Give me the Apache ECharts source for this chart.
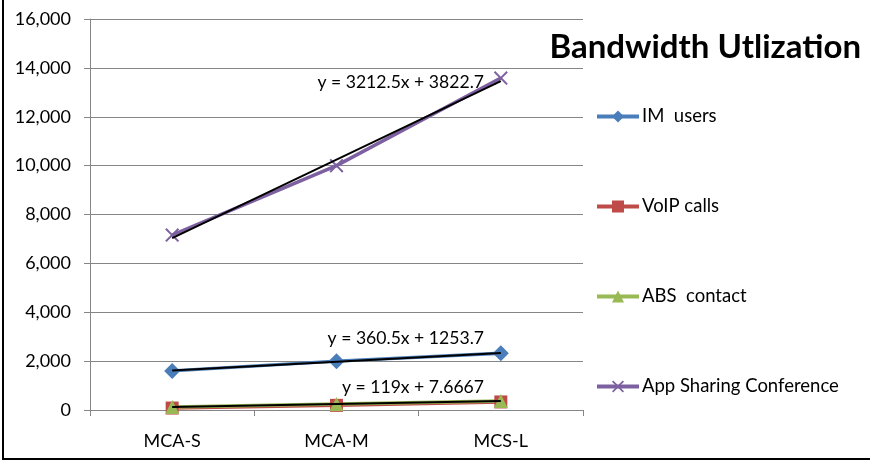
<!DOCTYPE html>
<html>
<head>
<meta charset="utf-8">
<script src="https://cdn.jsdelivr.net/npm/echarts@6/dist/echarts.min.js"></script>
<style>
  html, body { margin: 0; padding: 0; background: #fff; }
  #chart { width: 870px; height: 464px; }
</style>
</head>
<body>
<div id="chart"></div>
<script>
// categories and series values
const categories = ['MCA-S', 'MCA-M', 'MCS-L']
const imUsers = [1601, 2000, 2322]
const voipCalls = [80, 190, 330]
const absContact = [126, 247, 364]
const appSharing = [7159, 10000, 13584]
const yTicks = [0, 2000, 4000, 6000, 8000, 10000, 12000, 14000, 16000]
const trendTexts = ['y = 3212.5x + 3822.7', 'y = 360.5x + 1253.7', 'y = 119x + 7.6667']

// linear least-squares trend over category index 1..n
const trend = (vals) => {
  const n = vals.length
  const xs = vals.map((v, i) => i + 1)
  const mx = xs.reduce((a, b) => a + b, 0) / n
  const my = vals.reduce((a, b) => a + b, 0) / n
  let num = 0, den = 0
  xs.forEach((x, i) => { num += (x - mx) * (vals[i] - my); den += (x - mx) * (x - mx) })
  const k = num / den
  return xs.map(x => my + k * (x - mx))
}

const FONT = 'Lato'
const crossPath = 'path://M0,1L1,0L5,4L9,0L10,1L6,5L10,9L9,10L5,6L1,10L0,9L4,5Z'

const lineSeries = (name, data, color, symbol, size) => ({
  name,
  type: 'line',
  data,
  symbol,
  symbolSize: size,
  lineStyle: { color, width: 3.5 },
  itemStyle: { color },
  z: 2
})

const trendSeries = (data) => ({
  name: 'trend',
  type: 'line',
  data,
  symbol: 'none',
  lineStyle: { color: '#000', width: 2 },
  silent: true,
  z: 3
})

// trendline equation label, right-aligned
const eqLabel = (text, y) => ({
  type: 'text',
  x: 484,
  y,
  z: 10,
  style: { text, font: '17.6px Lato', fill: '#000', align: 'right', verticalAlign: 'middle' }
})

const chart = echarts.init(document.getElementById('chart'))
chart.setOption({
  animation: false,
  textStyle: { fontFamily: FONT },
  grid: { left: 90, right: 287, top: 19, bottom: 54 },
  title: {
    text: 'Bandwidth Utlization',
    right: 4,
    top: 26,
    textStyle: { fontFamily: FONT, fontSize: 33, fontWeight: 'bold', color: '#000' }
  },
  legend: {
    orient: 'vertical',
    left: 590,
    top: 102,
    itemWidth: 42,
    itemHeight: 15,
    itemGap: 71,
    lineStyle: { width: 4 },
    data: ['IM  users', 'VoIP calls', 'ABS  contact', 'App Sharing Conference'],
    textStyle: { fontFamily: FONT, fontSize: 18.5, color: '#000', padding: [0, 0, 0, -2] }
  },
  xAxis: {
    type: 'category',
    data: categories,
    boundaryGap: true,
    axisLine: { lineStyle: { color: '#868686', width: 1 } },
    axisTick: { show: true, length: 6, lineStyle: { color: '#868686' } },
    axisLabel: { fontFamily: FONT, fontSize: 18, color: '#000', margin: 22 }
  },
  yAxis: {
    type: 'value',
    min: yTicks[0],
    max: yTicks[yTicks.length - 1],
    interval: 2000,
    axisLine: { show: true, lineStyle: { color: '#868686', width: 1 } },
    axisTick: { show: true, length: 6, lineStyle: { color: '#868686' } },
    splitLine: { lineStyle: { color: '#868686', width: 1 } },
    axisLabel: {
      fontFamily: FONT, fontSize: 18, color: '#000', margin: 19,
      formatter: v => v.toLocaleString('en-US')
    }
  },
  graphic: [
    {
      type: 'rect',
      shape: { x: 3, y: -4, width: 880, height: 463 },
      style: { fill: 'none', stroke: '#000', lineWidth: 2 },
      silent: true
    },
    eqLabel(trendTexts[0], 82),
    eqLabel(trendTexts[1], 338),
    eqLabel(trendTexts[2], 387)
  ],
  series: [
    lineSeries('IM  users', imUsers, '#4a7ebb', 'diamond', 16),
    lineSeries('VoIP calls', voipCalls, '#be4b48', 'rect', 13),
    lineSeries('ABS  contact', absContact, '#98b954', 'triangle', 14),
    lineSeries('App Sharing Conference', appSharing, '#7d60a0', crossPath, 14),
    trendSeries(trend(appSharing)),
    trendSeries(trend(imUsers)),
    trendSeries(trend(absContact))
  ]
})
</script>
</body>
</html>
